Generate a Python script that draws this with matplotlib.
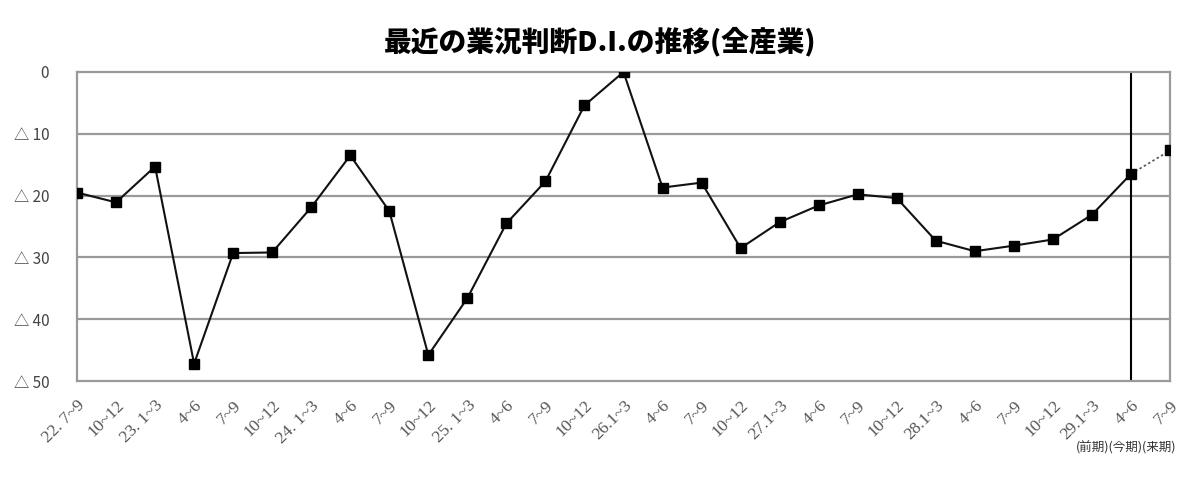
import numpy as np
import matplotlib
matplotlib.use("Agg")
import matplotlib.pyplot as plt

plt.rcParams['font.family'] = ['Noto Sans CJK JP', 'DejaVu Sans']

periods = ["22. 7~9", "10~12", "23. 1~3", "4~6", "7~9", "10~12",
           "24. 1~3", "4~6", "7~9", "10~12",
           "25. 1~3", "4~6", "7~9", "10~12",
           "26.1~3", "4~6", "7~9", "10~12",
           "27.1~3", "4~6", "7~9", "10~12",
           "28.1~3", "4~6", "7~9", "10~12",
           "29.1~3", "4~6", "7~9"]
# 業況判断D.I.（△ = マイナス）
di_values = [19.5, 21.1, 15.3, 47.2, 29.3, 29.2,
             21.9, 13.5, 22.5, 45.8,
             36.6, 24.5, 17.7, 5.4,
             0.0, 18.7, 17.9, 28.5,
             24.3, 21.6, 19.8, 20.4,
             27.3, 29.0, 28.1, 27.1,
             23.1, 16.5, 12.7]
current_idx = 27  # 今期 (29.4~6)
y_ticks = [0, 10, 20, 30, 40, 50]
y_tick_labels = ["0", "△ 10", "△ 20", "△ 30", "△ 40", "△ 50"]

x = np.arange(len(periods))
vals = np.array(di_values)

fig = plt.figure(figsize=(11.83, 4.84), dpi=100)
ax = fig.add_axes([77 / 1183, 103 / 484, 1093 / 1183, 309 / 484])

for y in y_ticks[1:-1]:
    ax.axhline(y, color='#9a9a9a', linewidth=1.6, zorder=1)

# actual values (solid) and forecast (dotted)
ax.plot(x[:current_idx + 1], vals[:current_idx + 1], color='#111111', linewidth=1.5,
        marker='s', markersize=6.5, markerfacecolor='black', markeredgecolor='black', zorder=3)
ax.plot(x[current_idx:], vals[current_idx:], color='#555555', linewidth=1.2,
        linestyle=(0, (1.5, 1.5)), zorder=2)
ax.plot(x[-1:], vals[-1:], linestyle='none', marker='s', markersize=6.5, color='black', zorder=3)

ax.axvline(x[current_idx], color='black', linewidth=1.5, zorder=2)

ax.set_xlim(x[0], x[-1])
ax.set_ylim(50, 0)
ax.set_yticks(y_ticks)
ax.set_yticklabels(y_tick_labels, fontsize=11, color='#444444')
ax.set_xticks(x)
ax.set_xticklabels(periods, rotation=45, ha='right', rotation_mode='anchor',
                   fontsize=12.5, color='#555555', family='Liberation Serif')
ax.tick_params(axis='both', length=0)
ax.tick_params(axis='y', pad=20)
ax.tick_params(axis='x', pad=12)

for side in ax.spines.values():
    side.set_color('#9a9a9a')
    side.set_linewidth(1.6)

fig.text(0.507, 0.915, "最近の業況判断D.I.の推移(全産業)", ha='center', va='center',
         fontsize=20, fontweight='black', color='black')
fig.text(0.994, 0.075, "(前期)(今期)(来期)", ha='right', va='center',
         fontsize=9, color='#333333')

fig.savefig("out.png", dpi=100)
